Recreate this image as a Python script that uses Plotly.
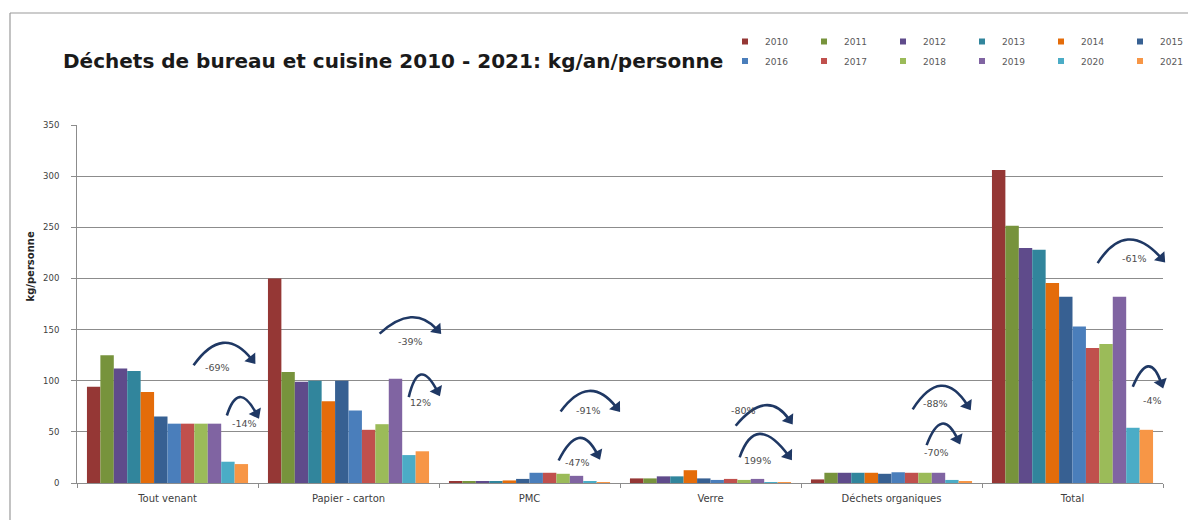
import math
import plotly.graph_objects as go

# Waste categories on the x axis
categories = ["Tout venant", "Papier - carton", "PMC", "Verre", "Déchets organiques", "Total"]
years = [str(y) for y in range(2010, 2022)]

# kg/person per year, one list per category (2010 .. 2021)
tout_venant = [94, 125, 112, 109.5, 89, 65, 58, 58, 58, 58, 20.8, 18.5]
papier_carton = [200, 108.5, 99, 100, 80, 100, 71, 52, 57.5, 102, 27.3, 31]
pmc = [1.5, 1.5, 1.5, 1.5, 2.5, 4, 10, 10, 9, 7, 1, 0.5]
verre = [4.5, 4.5, 6.5, 6.5, 12.5, 4.5, 3, 4, 3, 4, 0.5, 0.3]
dechets_organiques = [3.5, 10, 10, 10, 10, 9, 10.5, 10, 10, 10, 3, 1]
total = [306, 251.5, 229.7, 228, 195.6, 182, 153, 132, 136, 182, 54, 52]

year_colors = ["#953735", "#77933c", "#5f4b8b", "#31859c", "#e46c0a", "#376092",
               "#4a7ebb", "#c0504d", "#9bbb59", "#8064a2", "#4bacc6", "#f79646"]

# Evolution arrows: label, arc start, arc top, arc end, label position
# (x in category units, y in kg/person)
arrow_labels = ["-69%", "-14%", "-39%", "12%", "-91%", "-47%",
                "-80%", "199%", "-88%", "-70%", "-61%", "-4%"]
arrow_start = [(0.144, 115), (0.328, 66), (1.172, 146), (1.333, 84), (2.172, 70), (2.161, 22),
               (3.139, 56), (3.161, 25), (4.117, 72), (4.194, 37), (5.139, 215), (5.333, 94)]
arrow_top = [(0.306, 137), (0.40, 84), (1.344, 162), (1.40, 106), (2.328, 90), (2.272, 44),
             (3.30, 76), (3.272, 48), (4.272, 95), (4.278, 58), (5.306, 238), (5.417, 114)]
arrow_end = [(0.465, 121), (0.49, 68), (1.49, 150), (1.49, 90), (2.48, 74), (2.375, 28),
             (3.435, 62), (3.43, 27), (4.42, 76), (4.365, 43), (5.49, 220), (5.49, 98)]
label_pos = [(0.278, 113), (0.428, 58), (1.344, 138), (1.40, 79), (2.328, 71), (2.267, 20),
             (3.183, 71), (3.261, 22), (4.244, 78), (4.25, 30), (5.344, 219), (5.444, 81)]

series = [tout_venant, papier_carton, pmc, verre, dechets_organiques, total]

FONT = "DejaVu Sans, sans-serif"
ARROW = "#1f3864"

# Plot area geometry (pixels)
L, R, T, B = 77, 25, 125, 37
W, H = 1188, 520
PW, PH = W - L - R, H - T - B
sx = PW / 6.0
sy = PH / 350.0

fig = go.Figure()

for i, yr in enumerate(years):
    fig.add_trace(go.Bar(
        x=categories,
        y=[s[i] for s in series],
        name=yr,
        marker=dict(color=year_colors[i], line=dict(width=0)),
        showlegend=False,
    ))

# Legend entries with small square swatches, two rows of six
for i, yr in enumerate(years):
    fig.add_trace(go.Scatter(
        x=[None], y=[None], mode="markers", name=yr,
        marker=dict(symbol="square", size=6, color=year_colors[i]),
        legend="legend" if i < 6 else "legend2",
    ))

shapes = []
annotations = []
head_x, head_y, head_angle = [], [], []
for lab, p0, pk, p1, lp in zip(arrow_labels, arrow_start, arrow_top, arrow_end, label_pos):
    cx = 2 * pk[0] - 0.5 * (p0[0] + p1[0])
    cy = 2 * pk[1] - 0.5 * (p0[1] + p1[1])
    shapes.append(dict(
        type="path", xref="x2", yref="y",
        path=f"M {p0[0]},{p0[1]} Q {cx},{cy} {p1[0]},{p1[1]}",
        line=dict(color=ARROW, width=2.6), layer="above",
    ))
    # arrowhead direction = tangent at the end of the arc (screen pixels)
    dxp = (p1[0] - cx) * sx
    dyp = (p1[1] - cy) * sy
    head_x.append(p1[0])
    head_y.append(p1[1])
    head_angle.append(math.degrees(math.atan2(dxp, dyp)))
    annotations.append(dict(
        x=lp[0], y=lp[1], xref="x2", yref="y", text=lab, showarrow=False,
        font=dict(family=FONT, size=9.5, color="#4d4d4d"),
    ))

# Arrowheads on the numeric overlay axis
fig.add_trace(go.Scatter(
    x=head_x, y=head_y, xaxis="x2", mode="markers", showlegend=False,
    hoverinfo="skip", cliponaxis=False,
    marker=dict(symbol="triangle-up", size=12, color=ARROW, angle=head_angle,
                line=dict(width=0)),
))

# y axis title
annotations.append(dict(
    xref="paper", yref="paper", x=(22 - L) / PW, y=(H - B - 267) / PH, textangle=-90,
    text="<b>kg/personne</b>", showarrow=False,
    font=dict(family=FONT, size=10, color="#262626"),
))

# Chart frame (top and left edges)
fx = (10 - L) / PW
fy = (H - B - 13) / PH
shapes.append(dict(type="line", xref="paper", yref="paper",
                   x0=fx, x1=(W + 5 - L) / PW, y0=fy, y1=fy,
                   line=dict(color="#9a9a9a", width=1.2)))
shapes.append(dict(type="line", xref="paper", yref="paper",
                   x0=fx, x1=fx, y0=fy, y1=-(B + 5) / PH,
                   line=dict(color="#9a9a9a", width=1.2)))

legend_common = dict(
    orientation="h", xanchor="left", yanchor="middle",
    entrywidth=34, entrywidthmode="pixels", itemwidth=30, tracegroupgap=0,
    font=dict(family=FONT, size=9, color="#595959"), bgcolor="rgba(0,0,0,0)",
)

fig.update_layout(
    width=W, height=H,
    margin=dict(l=L, r=R, t=T, b=B, autoexpand=False),
    paper_bgcolor="white", plot_bgcolor="white",
    barmode="group", bargap=0.11, bargroupgap=0,
    font=dict(family=FONT, size=10, color="#404040"),
    title=dict(
        text="<b>Déchets de bureau et cuisine 2010 - 2021: kg/an/personne</b>",
        x=63 / W, xanchor="left", y=1 - 61 / H, yanchor="middle",
        font=dict(family=FONT, size=20, color="#1a1a1a"),
    ),
    xaxis=dict(
        type="category", range=[-0.5, 5.5], tickson="boundaries",
        ticks="outside", ticklen=4, tickcolor="#8c8c8c",
        showline=True, linecolor="#8c8c8c", linewidth=1, ticklabelstandoff=6,
        showgrid=False, tickfont=dict(family=FONT, size=10, color="#404040"),
        fixedrange=True,
    ),
    xaxis2=dict(overlaying="x", range=[-0.5, 5.5], visible=False, fixedrange=True),
    yaxis=dict(
        range=[0, 350], dtick=50, ticks="outside", ticklen=5, tickcolor="#8c8c8c",
        showline=True, linecolor="#8c8c8c", linewidth=1, ticklabelstandoff=10,
        showgrid=True, gridcolor="#8c8c8c", gridwidth=1, zeroline=False,
        tickfont=dict(family=FONT, size=8.5, color="#404040"),
    ),
    legend=dict(x=(725 - L) / PW, y=(H - B - 41.5) / PH, **legend_common),
    legend2=dict(x=(725 - L) / PW, y=(H - B - 61) / PH, **legend_common),
    shapes=shapes,
    annotations=annotations,
    showlegend=True,
)

fig.write_html("out.html")
